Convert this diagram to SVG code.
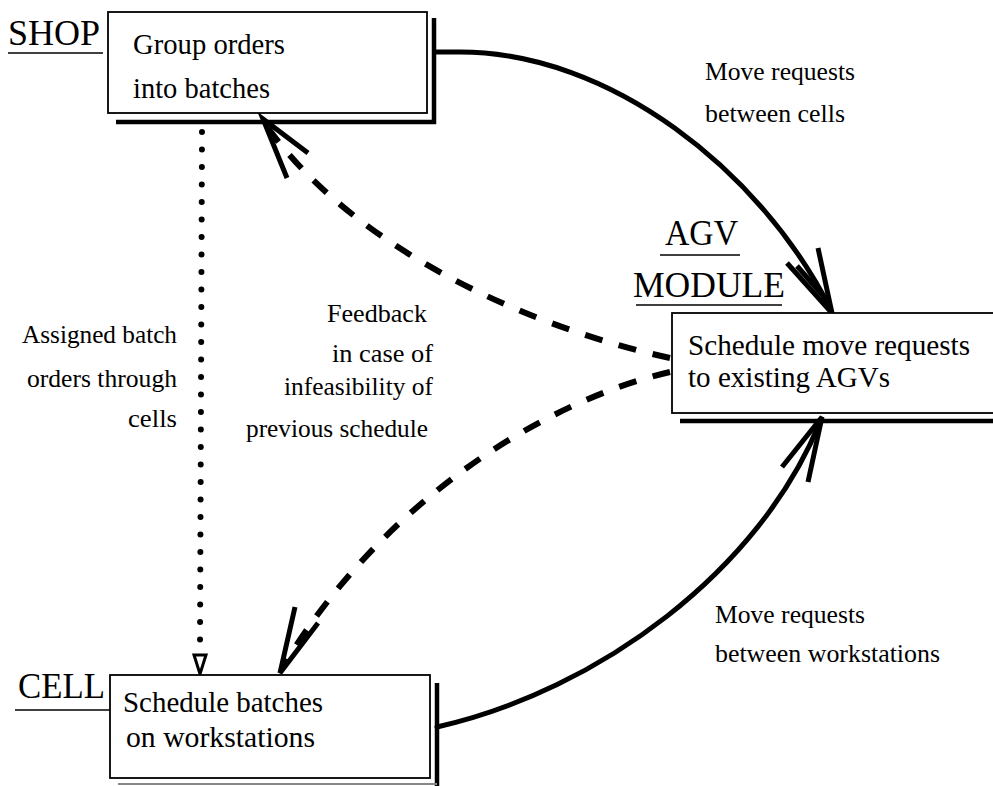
<svg xmlns="http://www.w3.org/2000/svg" width="993" height="786" viewBox="0 0 993 786">
<style>
  .box { fill: #fff; stroke: #000; stroke-width: 1.8; }
  .shadow { stroke: #000; stroke-width: 4.5; fill: none; }
  .t { font-family: "Liberation Serif", "Times New Roman", serif; fill: #000; }
  .big { font-size: 35px; }
  .node { font-size: 30px; }
  .lbl { font-size: 26px; }
  .ul { stroke: #000; stroke-width: 1.5; }
  .solid { fill: none; stroke: #000; stroke-width: 5; stroke-linecap: round; }
  .dash { fill: none; stroke: #000; stroke-width: 6; stroke-dasharray: 18 17; }
  .dot { fill: none; stroke: #000; stroke-width: 6; stroke-linecap: round; stroke-dasharray: 0.1 17.4; }
  .head { fill: none; stroke: #000; stroke-width: 5; stroke-linecap: butt; stroke-linejoin: miter; }
</style>
<rect width="993" height="786" fill="#fff"/>

<g id="connectors">
  <!-- SHOP -> AGV -->
  <path class="solid" d="M436,52 L460,52 C610,52 760,170 830,308"/>
  <path class="head" d="M787,263 L832,313 L818,248"/>
  <path class="head" d="M797,266 L825,298" stroke-width="3"/>
  <!-- CELL -> AGV -->
  <path class="solid" d="M437,727 C600,690 760,570 820,422"/>
  <path class="head" d="M782,467 L822,417 L808,482"/>
  <!-- AGV -> SHOP dashed -->
  <path class="dash" d="M670,358 C540,330 360,255 268,128"/>
  <path class="head" d="M287,178 L263,119 L308,153"/>
  <!-- AGV -> CELL dashed -->
  <path class="dash" d="M670,372 C540,402 380,505 284,665"/>
  <path class="head" d="M295,607 L280,673 L318,623"/>
  <!-- SHOP -> CELL dotted -->
  <path class="dot" d="M202,132 L200,650"/>
  <polygon points="194,655 206,655 200,674" fill="#fff" stroke="#000" stroke-width="3"/>
</g>

<g id="shop">
  <rect class="box" x="108" y="12" width="319" height="101"/>
  <path class="shadow" d="M434,18 L434,124 M116,122 L436,122"/>
  <text class="t big" x="8" y="45" textLength="92" lengthAdjust="spacingAndGlyphs">SHOP</text>
  <line class="ul" x1="8" y1="53" x2="103" y2="53"/>
  <text class="t node" x="133" y="54" textLength="152" lengthAdjust="spacingAndGlyphs">Group orders</text>
  <text class="t node" x="133" y="98" textLength="137" lengthAdjust="spacingAndGlyphs">into batches</text>
</g>

<g id="agv">
  <rect class="box" x="672" y="313" width="330" height="100"/>
  <path class="shadow" d="M680,421 L993,421"/>
  <text class="t big" x="665" y="245" textLength="73" lengthAdjust="spacingAndGlyphs">AGV</text>
  <line class="ul" x1="660" y1="255" x2="740" y2="255"/>
  <text class="t big" x="633" y="297" textLength="152" lengthAdjust="spacingAndGlyphs">MODULE</text>
  <line class="ul" x1="636" y1="305" x2="782" y2="305"/>
  <text class="t node" x="688" y="355" textLength="282" lengthAdjust="spacingAndGlyphs">Schedule move requests</text>
  <text class="t node" x="688" y="387" textLength="202" lengthAdjust="spacingAndGlyphs">to existing AGVs</text>
</g>

<g id="cell">
  <rect class="box" x="110" y="675" width="320" height="103"/>
  <path class="shadow" d="M437,683 L437,786"/>
  <line x1="118" y1="784" x2="437" y2="784" stroke="#888" stroke-width="2"/>
  <text class="t big" x="18" y="698" textLength="87" lengthAdjust="spacingAndGlyphs">CELL</text>
  <line class="ul" x1="15" y1="710" x2="110" y2="710"/>
  <text class="t node" x="123" y="712" textLength="200" lengthAdjust="spacingAndGlyphs">Schedule batches</text>
  <text class="t node" x="126" y="747" textLength="189" lengthAdjust="spacingAndGlyphs">on workstations</text>
</g>

<g id="labels">
  <text class="t lbl" x="705" y="80" textLength="150" lengthAdjust="spacingAndGlyphs">Move requests</text>
  <text class="t lbl" x="705" y="122" textLength="140" lengthAdjust="spacingAndGlyphs">between cells</text>
  <text class="t lbl" x="715" y="623" textLength="150" lengthAdjust="spacingAndGlyphs">Move requests</text>
  <text class="t lbl" x="715" y="662" textLength="225" lengthAdjust="spacingAndGlyphs">between workstations</text>
  <text class="t lbl" x="22" y="343" textLength="155" lengthAdjust="spacingAndGlyphs">Assigned batch</text>
  <text class="t lbl" x="27" y="387" textLength="150" lengthAdjust="spacingAndGlyphs">orders through</text>
  <text class="t lbl" x="128" y="427" textLength="49" lengthAdjust="spacingAndGlyphs">cells</text>
  <text class="t lbl" x="327" y="322" textLength="100" lengthAdjust="spacingAndGlyphs">Feedback</text>
  <text class="t lbl" x="332" y="362" textLength="101" lengthAdjust="spacingAndGlyphs">in case of</text>
  <text class="t lbl" x="284" y="395" textLength="149" lengthAdjust="spacingAndGlyphs">infeasibility of</text>
  <text class="t lbl" x="246" y="437" textLength="182" lengthAdjust="spacingAndGlyphs">previous schedule</text>
</g>
</svg>
